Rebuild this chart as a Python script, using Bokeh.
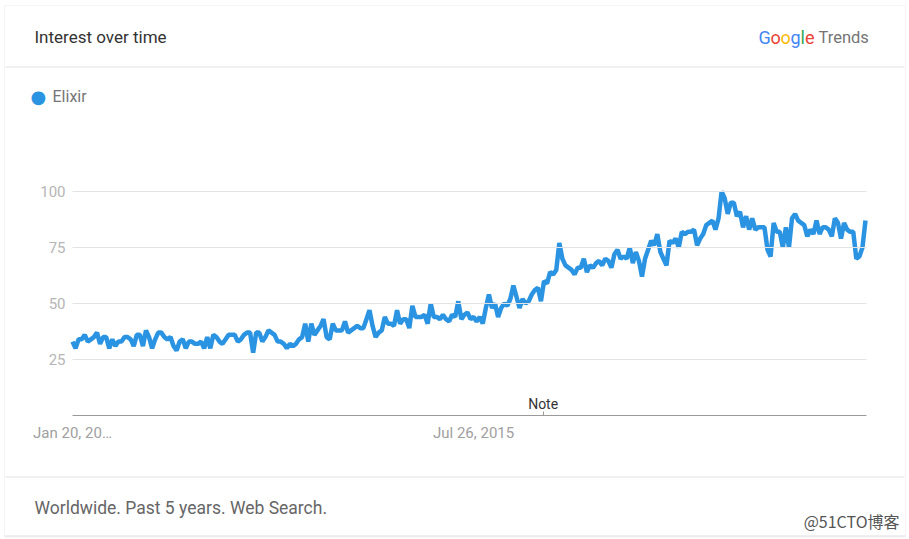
import pandas as pd
from bokeh.plotting import figure
from bokeh.models import (Range1d, FixedTicker, Label, BoxAnnotation,
                          LinearAxis, DatetimeAxis)
from bokeh.embed import file_html
from bokeh.resources import INLINE

# ---- data ----
series_name = "Elixir"
start_date = "2013-01-20"
values = [
    33, 30, 34, 34, 36, 33, 34, 35, 37, 32, 35, 35, 30, 34, 31, 33, 33, 35, 35, 34,
    31, 36, 36, 31, 38, 35, 30, 34, 37, 37, 35,
    34, 35, 31, 29, 33, 34, 30, 33, 33, 32, 32, 33, 30, 35, 30, 36, 35, 33, 32, 34,
    36, 36, 36, 33, 34, 36, 37, 37, 28, 37,
    37, 33, 35, 38, 37, 36, 33, 33, 32, 30, 32, 31, 32, 34, 35, 41, 33, 41, 36, 38,
    40, 43, 35, 34, 41, 38, 38, 38, 42, 37, 38, 39, 40, 39, 39, 43, 47, 40, 35, 37,
    38, 44, 41, 41, 40, 47, 41, 43, 43, 39, 49, 44, 44, 44, 45, 41, 50, 44, 44, 43,
    45, 43, 42, 45, 44, 51, 43, 45, 46, 43,
    44, 42, 44, 41, 48, 54, 48, 50, 44, 48, 50, 49, 52, 58, 53, 48, 52, 50, 51, 54,
    56, 57, 51, 60, 59, 64, 63, 65, 77, 70,
    67, 66, 65, 63, 66, 66, 70, 64, 67, 66, 68, 69, 67, 70, 69, 66, 72, 74, 70, 71,
    70, 75, 68, 73, 69, 62, 70, 74, 78, 76,
    81, 73, 70, 67, 78, 77, 79, 75, 82, 81, 82, 82, 83, 76, 79, 81, 85, 86, 87, 83,
    88, 100, 97, 90, 95, 95, 89, 91, 84, 89,
    83, 88, 83, 84, 84, 84, 74, 71, 86, 82, 82, 75, 84, 75, 88, 90, 87, 86, 85, 80,
    83, 81, 87, 81, 84, 84, 83, 80, 88, 86, 79, 86, 83, 82, 82, 70, 71, 75, 87,
]
x_tick_dates = ["2013-01-20", "2015-07-26"]
x_tick_labels = ["Jan 20, 20\u2026", "Jul 26, 2015"]
y_ticks = [25, 50, 75, 100]
note_date = "2016-01-01"

dates = pd.date_range(start_date, periods=len(values), freq="7D")


def ms(d):
    return float(pd.Timestamp(d).value // 10**6)


FONT = "Roboto"
LINE_COLOR = "#2a93e2"
W, H = 909, 539

# ---- placement of the chart area inside the card (canvas pixels) ----
PX_LEFT, PX_LAST, PX_RIGHT = 72, 865, 866      # first point, last point, axis end
PY_ZERO, PY_TOP = 415, 191                     # y=0 and y=100
t0, t1 = ms(dates[0]), ms(dates[-1])
ppms = (PX_LAST - PX_LEFT) / (t1 - t0)
x_start = t0 - PX_LEFT / ppms
x_end = t0 + (W - PX_LEFT) / ppms
x_axis_end = t0 + (PX_RIGHT - PX_LEFT) / ppms
ppu = (PY_ZERO - PY_TOP) / 100.0
y_start = -(H - PY_ZERO) / ppu
y_end = 100 + PY_TOP / ppu

p = figure(
    width=W, height=H,
    x_range=Range1d(x_start, x_end), y_range=Range1d(y_start, y_end),
    x_axis_location=None, y_axis_location=None,
    output_backend="svg", toolbar_location=None,
    min_border=0, min_border_left=0, min_border_right=0,
    min_border_top=0, min_border_bottom=0,
    background_fill_color="white", border_fill_color="white",
    outline_line_color=None,
)
p.grid.visible = False


def hbox(left, right, top, bottom, **kw):
    p.add_layout(BoxAnnotation(
        left=left, right=right, top=H - top, bottom=H - bottom,
        left_units="screen", right_units="screen",
        top_units="screen", bottom_units="screen", level="underlay", **kw))


# card border, soft shadow and dividers
hbox(4, 905, 535, 537, fill_color="#000000", fill_alpha=0.07, line_color=None)
hbox(4, 905, 5, 535, fill_alpha=0, line_color="#dedede", line_width=1)
hbox(5, 904, 66, 67, fill_color="#e3e3e3", fill_alpha=1, line_color=None)
hbox(5, 904, 476, 477, fill_color="#e3e3e3", fill_alpha=1, line_color=None)

# y axis anchored at the first date; its inward ticks form the grid lines
yax = LinearAxis(ticker=FixedTicker(ticks=y_ticks), fixed_location=t0,
                 axis_line_color=None,
                 major_tick_line_color="#e3e3e3", major_tick_in=PX_RIGHT - PX_LEFT,
                 major_tick_out=0, minor_tick_line_color=None,
                 major_label_text_color="#b5b5b5", major_label_text_font=FONT,
                 major_label_text_font_size="15px", major_label_standoff=7)
p.add_layout(yax, "left")

p.line(dates, values, line_width=4.5, line_color=LINE_COLOR)

# x axis
tick_ms = [ms(d) for d in x_tick_dates]
xax = DatetimeAxis(ticker=FixedTicker(ticks=tick_ms, minor_ticks=[ms(note_date)]),
                   fixed_location=0, bounds=(t0, x_axis_end),
                   axis_line_color="#9a9a9a", major_tick_line_color=None,
                   minor_tick_line_color="#9a9a9a", minor_tick_in=4, minor_tick_out=0,
                   major_label_text_color="#a0a0a0", major_label_text_font=FONT,
                   major_label_text_font_size="15px", major_label_standoff=2)
xax.major_label_overrides = {t: lab for t, lab in zip(tick_ms, x_tick_labels)}
p.add_layout(xax, "below")


def lab(text, px, py, size, color, align="left", font=FONT):
    p.add_layout(Label(
        x=px, y=H - py, x_units="screen", y_units="screen",
        text=text, text_font=font, text_font_size=size, text_color=color,
        text_align=align, text_baseline="middle"))


# header
lab("Interest over time", 34, 36, "17px", "#333333")
g_letters = ["G", "o", "o", "g", "l", "e"]
g_colors = ["#4285F4", "#EA4335", "#FBBC05", "#4285F4", "#34A853", "#EA4335"]
g_x = [758, 770, 780, 790, 800, 804.5]
for ch, c, gx in zip(g_letters, g_colors, g_x):
    lab(ch, gx, 37, "18px", c)
lab("Trends", 818, 37, "16.5px", "#757575")

# legend
lab("\u25CF", 30, 96, "18px", LINE_COLOR, font="DejaVu Sans")
lab(series_name, 52, 96, "16px", "#757575")

# note
p.add_layout(Label(x=ms(note_date), y=H - 403, x_units="data", y_units="screen",
                   text="Note", text_font=FONT, text_font_size="14px",
                   text_color="#333333", text_align="center", text_baseline="middle"))

# footer
lab("Worldwide. Past 5 years. Web Search.", 34, 507, "17.5px", "#666666")
lab("@51CTO\u535a\u5ba2", 899, 520, "16px", "#555555", align="right",
    font="Noto Sans CJK SC")

open("out.html", "w").write(file_html(p, INLINE))
